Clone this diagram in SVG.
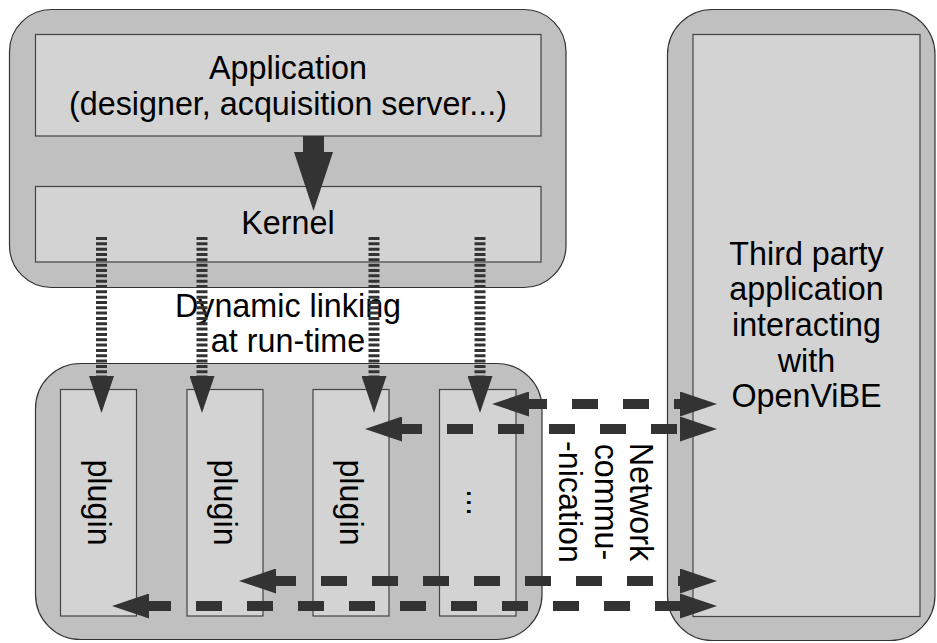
<svg xmlns="http://www.w3.org/2000/svg" width="937" height="643" viewBox="0 0 937 643">
<style>
.outer{fill:#c0c0c0;stroke:#333;stroke-width:1.2}
.inner{fill:#d3d3d3;stroke:#444;stroke-width:1.2}
text{font-family:"Liberation Sans",Arial,sans-serif;font-size:32.3px;fill:#000}
.mid{text-anchor:middle}
.dash{stroke:#333;stroke-width:10;fill:none;stroke-dasharray:26 25}
.dot{stroke:#333;stroke-width:11;fill:none;stroke-dasharray:3 2.33}
</style>
<defs>
<marker id="head" markerUnits="userSpaceOnUse" viewBox="0 0 37 25" markerWidth="37" markerHeight="25" refX="0" refY="12.5" orient="auto-start-reverse">
<path d="M0,0 L37,12.5 L0,25 z" fill="#333"/>
</marker>
</defs>
<rect width="937" height="643" fill="#fff"/>
<g id="core">
<rect class="outer" x="9.5" y="9.5" width="556.5" height="278" rx="42" ry="42"/>
</g>
<g id="application">
<rect class="inner" x="35.5" y="34.5" width="505.5" height="101.5"/>
<text class="mid" x="288" y="79">Application</text>
<text class="mid" x="288" y="115">(designer, acquisition server...)</text>
</g>
<g id="kernel">
<rect class="inner" x="35.5" y="186.5" width="505.5" height="75.5"/>
<text class="mid" x="288" y="234">Kernel</text>
</g>
<g id="plugins-box">
<rect class="outer" x="35.5" y="363.5" width="506.5" height="276" rx="45" ry="45"/>
</g>
<g id="plugin1">
<rect class="inner" x="60.5" y="389.5" width="76" height="226.5"/>
<text class="mid" transform="translate(98.5,502.5) rotate(90)" dy="10.7">plugin</text>
</g>
<g id="plugin2">
<rect class="inner" x="187" y="389.5" width="76" height="226.5"/>
<text class="mid" transform="translate(225,502.5) rotate(90)" dy="10.7">plugin</text>
</g>
<g id="plugin3">
<rect class="inner" x="313" y="389.5" width="76" height="226.5"/>
<text class="mid" transform="translate(351,502.5) rotate(90)" dy="10.7">plugin</text>
</g>
<g id="plugin4">
<rect class="inner" x="439.5" y="389.5" width="76.5" height="226.5"/>
<text class="mid" transform="translate(477.5,502.5) rotate(90)" dy="10.7">...</text>
</g>
<g id="third-party">
<rect class="outer" x="667.5" y="9.5" width="267.5" height="631" rx="45" ry="45"/>
<rect class="inner" x="693" y="34.5" width="227" height="582"/>
<text class="mid" x="806.5" y="264.5">Third party</text>
<text class="mid" x="806.5" y="300">application</text>
<text class="mid" x="806.5" y="335.8">interacting</text>
<text class="mid" x="806.5" y="371.5">with</text>
<text class="mid" x="806.5" y="407">OpenViBE</text>
</g>
<g id="labels">
<text class="mid" x="288" y="317">Dynamic linking</text>
<text class="mid" x="288" y="352">at run-time</text>
<text class="mid" transform="translate(630,502) rotate(90)">Network</text>
<text class="mid" transform="translate(594.5,502) rotate(90)">commu-</text>
<text class="mid" transform="translate(559,502) rotate(90)">-nication</text>
</g>
<g id="connectors">
<polygon points="303,136 324,136 324,152 333,152 313.5,211 294,152 303,152" fill="#333"/>
<line class="dot" x1="101.5" y1="237" x2="101.5" y2="376" marker-end="url(#head)"/>
<line class="dot" x1="202" y1="237" x2="202" y2="376" marker-end="url(#head)"/>
<line class="dot" x1="374" y1="237" x2="374" y2="376" marker-end="url(#head)"/>
<line class="dot" x1="480" y1="237" x2="480" y2="376" marker-end="url(#head)"/>
<line class="dash" x1="529" y1="404" x2="680" y2="404" stroke-dashoffset="8" marker-start="url(#head)" marker-end="url(#head)"/>
<line class="dash" x1="402" y1="429" x2="680" y2="429" stroke-dashoffset="6" marker-start="url(#head)" marker-end="url(#head)"/>
<line class="dash" x1="276" y1="581" x2="680" y2="581" stroke-dashoffset="6" marker-start="url(#head)" marker-end="url(#head)"/>
<line class="dash" x1="149" y1="606" x2="680" y2="606" stroke-dashoffset="4" marker-start="url(#head)" marker-end="url(#head)"/>
</g>
</svg>
